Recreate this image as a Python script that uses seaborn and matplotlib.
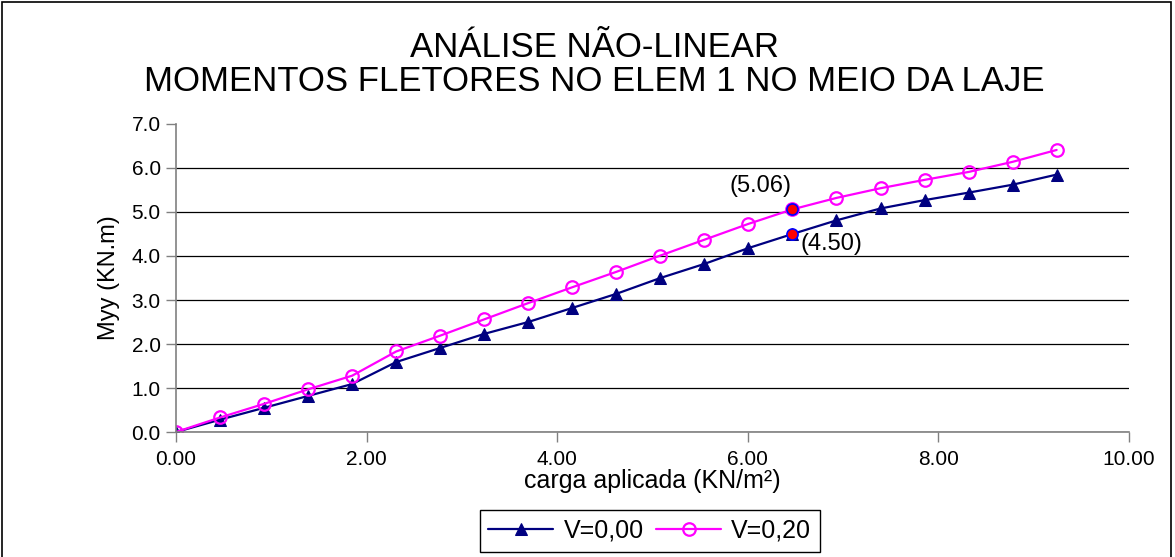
import numpy as np
import pandas as pd
import matplotlib
matplotlib.use("Agg")
import matplotlib.pyplot as plt
import seaborn as sns
from matplotlib.patches import Rectangle

sns.set_theme(style="white")
plt.rcParams['font.family'] = ['Liberation Sans', 'DejaVu Sans']
plt.rcParams['text.color'] = 'black'
plt.rcParams['axes.labelcolor'] = 'black'

# carga aplicada (KN/m2)
carga = [0.00, 0.462, 0.924, 1.386, 1.848, 2.31, 2.772, 3.234, 3.696, 4.158, 4.62,
         5.082, 5.544, 6.006, 6.468, 6.93, 7.392, 7.854, 8.316, 8.778, 9.24]
# Myy para V=0,00
myy_v000 = [0.00, 0.28, 0.55, 0.82, 1.09, 1.59, 1.91, 2.23, 2.50, 2.82, 3.14,
            3.50, 3.82, 4.18, 4.50, 4.81, 5.08, 5.27, 5.44, 5.62, 5.85]
# Myy para V=0,20
myy_v020 = [0.00, 0.33, 0.64, 0.97, 1.28, 1.83, 2.19, 2.56, 2.93, 3.29, 3.64,
            4.01, 4.37, 4.73, 5.06, 5.32, 5.54, 5.73, 5.91, 6.14, 6.41]
serie_labels = ["V=0,00", "V=0,20"]
destaque_idx = 14  # ponto destacado (6.47 KN/m2)

df = pd.DataFrame({
    "carga": carga * 2,
    "myy": myy_v000 + myy_v020,
    "serie": [serie_labels[0]] * len(carga) + [serie_labels[1]] * len(carga),
})

fig = plt.figure(figsize=(11.75, 5.57), dpi=100)
ax = fig.add_axes([0.1498, 0.2244, 0.8111, 0.553])

cores = {"V=0,00": "#000080", "V=0,20": "#FF00FF"}
sns.lineplot(data=df[df.serie == "V=0,00"], x="carga", y="myy", ax=ax,
             color=cores["V=0,00"], linewidth=1.6, marker="^", markersize=8,
             markeredgecolor=cores["V=0,00"], label="V=0,00")
sns.lineplot(data=df[df.serie == "V=0,20"], x="carga", y="myy", ax=ax,
             color=cores["V=0,20"], linewidth=1.6, marker="o", markersize=9,
             markerfacecolor="none", markeredgecolor=cores["V=0,20"],
             markeredgewidth=1.6, label="V=0,20")

# pontos destacados
for vals in (myy_v000, myy_v020):
    ax.plot(carga[destaque_idx], vals[destaque_idx], "o", color="red",
            markeredgecolor="blue", markersize=8, markeredgewidth=1.2, zorder=5)
ax.annotate(f"({myy_v020[destaque_idx]:.2f})", (carga[destaque_idx], myy_v020[destaque_idx]),
            textcoords="offset points", xytext=(-23, 17), ha="center", va="center",
            fontsize=17, color="black")
ax.annotate(f"({myy_v000[destaque_idx]:.2f})", (carga[destaque_idx], myy_v000[destaque_idx]),
            textcoords="offset points", xytext=(28, -7), ha="center", va="center",
            fontsize=17, color="black")

ax.set_xlim(0, 10)
ax.set_ylim(0, 7)
ax.set_xticks(np.arange(0, 10.1, 2))
ax.set_xticklabels([f"{v:.2f}" for v in np.arange(0, 10.1, 2)], fontsize=15)
ax.set_yticks(np.arange(0, 7.1, 1))
ax.set_yticklabels([f"{v:.1f}" for v in np.arange(0, 7.1, 1)], fontsize=15)
ax.yaxis.grid(True, color="black", linewidth=0.9)
ax.yaxis.get_gridlines()[-1].set_visible(False)
ax.tick_params(axis="both", direction="out", length=7, width=1, color="#808080",
               labelcolor="black", left=True, bottom=True)
ax.tick_params(axis="x", pad=6)
ax.tick_params(axis="y", pad=4)
for s in ("top", "right"):
    ax.spines[s].set_visible(False)
for s in ("left", "bottom"):
    ax.spines[s].set_color("#808080")
    ax.spines[s].set_linewidth(1.2)

ax.set_xlabel("carga aplicada (KN/m²)", fontsize=18, labelpad=0)
ax.set_ylabel("Myy (KN.m)", fontsize=17, labelpad=8)

fig.text(0.506, 0.944, "ANÁLISE NÃO-LINEAR\nMOMENTOS FLETORES NO ELEM 1 NO MEIO DA LAJE",
         ha="center", va="top", fontsize=25, linespacing=1.04, color="black")

ax.get_legend().remove()
h, l = ax.get_legend_handles_labels()
fig.legend(h, l, loc="center", bbox_to_anchor=(0.553, 0.047), ncol=2, fontsize=18,
           frameon=True, fancybox=False, edgecolor="black", framealpha=1,
           handlelength=2.6, columnspacing=0.5, handletextpad=0.4, borderpad=0.35)

fig.patches.append(Rectangle((0.002, -0.01), 0.995, 1.006, transform=fig.transFigure,
                             fill=False, edgecolor="black", linewidth=1.2))

fig.savefig("out.png", dpi=100)
